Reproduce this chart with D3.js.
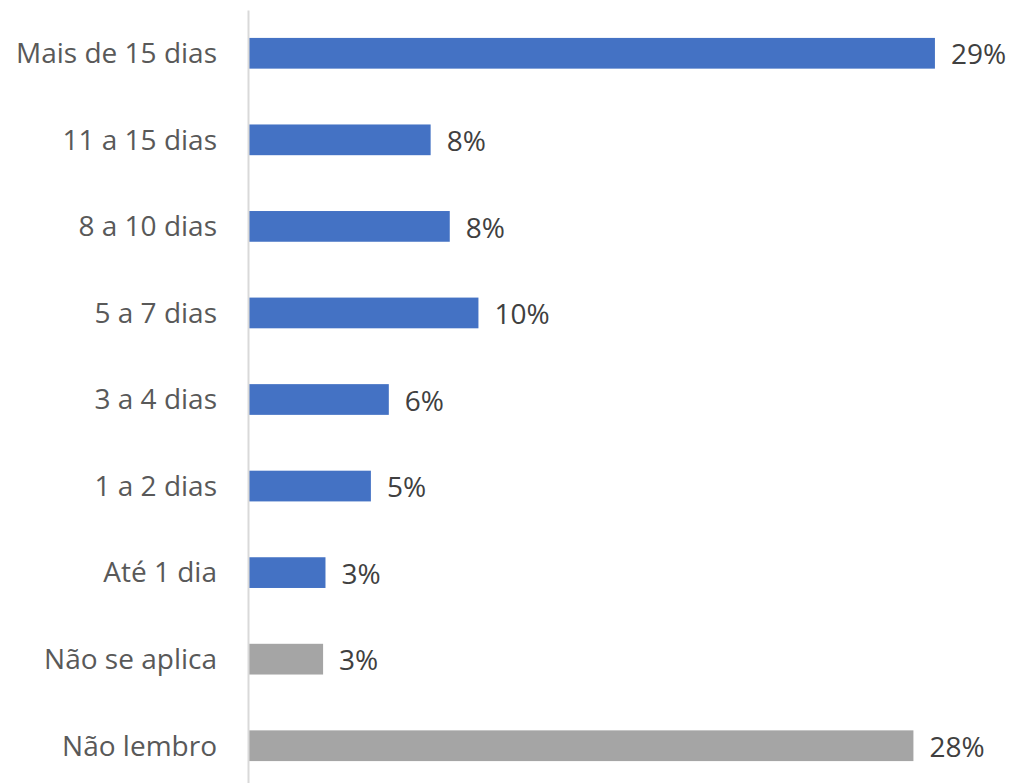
<!DOCTYPE html>
<html>
<head>
<meta charset="utf-8">
<script src="https://cdn.jsdelivr.net/npm/d3@7"></script>
<style>
  body { margin: 0; background: #fff; }
  .cat text { font-family: "Open Sans", sans-serif; font-size: 28px; fill: #595959; }
  .value-label { font-family: "Open Sans", sans-serif; font-size: 28px; fill: #404040; }
</style>
</head>
<body>
<script>
// Categories, top to bottom
const categories = [
  "Mais de 15 dias", "11 a 15 dias", "8 a 10 dias", "5 a 7 dias",
  "3 a 4 dias", "1 a 2 dias", "Até 1 dia", "Não se aplica", "Não lembro"
];
// Share of answers (%)
const values = [28.7, 7.6, 8.4, 9.6, 5.85, 5.1, 3.2, 3.1, 27.8];
// Printed labels
const labels = ["29%", "8%", "8%", "10%", "6%", "5%", "3%", "3%", "28%"];
// Gray bars for the "no answer" type categories
const grayCats = ["Não se aplica", "Não lembro"];

const W = 1009, H = 783,
  axisX = 248;

const x = d3.scaleLinear().domain([0, 30]).range([axisX + 1, axisX + 1 + 717]);
const y = d3.scaleBand().domain(categories).range([10, 789])
  .paddingInner(0.645)
  .paddingOuter(0.3225);

const svg = d3.select("body").append("svg")
  .attr("width", W)
  .attr("height", H);

// Bars
svg.append("g")
  .selectAll("rect")
  .data(categories)
  .enter()
  .append("rect")
  .attr("x", x(0))
  .attr("y", d => y(d))
  .attr("width", (d, i) => x(values[i]) - x(0))
  .attr("height", y.bandwidth())
  .style("fill", d => grayCats.includes(d) ? "#a5a5a5" : "#4472c4");

// Category axis
const ax = svg.append("g")
  .attr("class", "cat")
  .attr("transform", `translate(${axisX},0)`)
  .call(d3.axisLeft(y).tickSize(0).tickPadding(31));
ax.select(".domain").attr("stroke", "#d9d9d9").attr("stroke-width", 2);
ax.selectAll("text").attr("dy", "0.35em");

// Value labels
svg.append("g")
  .selectAll("text")
  .data(categories)
  .enter()
  .append("text")
  .attr("class", "value-label")
  .attr("x", (d, i) => x(values[i]) + 16)
  .attr("y", d => y(d) + y.bandwidth() / 2)
  .attr("dy", "0.4em")
  .text((d, i) => labels[i]);
</script>
</body>
</html>
